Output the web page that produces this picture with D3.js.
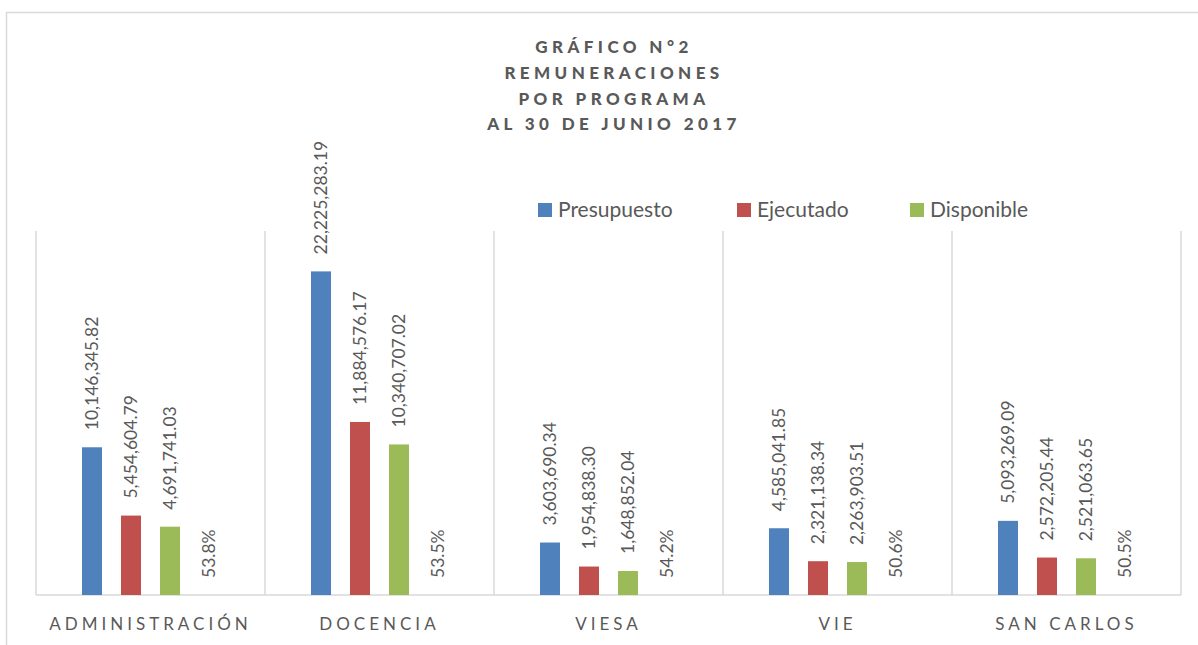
<!DOCTYPE html>
<html>
<head>
<meta charset="utf-8">
<script src="https://cdn.jsdelivr.net/npm/d3@7"></script>
<style>
  body { margin: 0; background: #fff; }
  text { font-family: Lato, "Open Sans", sans-serif; fill: #595959; }
</style>
</head>
<body>
<svg width="1198" height="645"></svg>
<script>
var categorias = ["ADMINISTRACIÓN", "DOCENCIA", "VIESA", "VIE", "SAN CARLOS"];
var presupuesto = [10146345.82, 22225283.19, 3603690.34, 4585041.85, 5093269.09];
var ejecutado = [5454604.79, 11884576.17, 1954838.30, 2321138.34, 2572205.44];
var disponible = [4691741.03, 10340707.02, 1648852.04, 2263903.51, 2521063.65];
var porcentaje = [0.538, 0.535, 0.542, 0.506, 0.505];
var series = ["Presupuesto", "Ejecutado", "Disponible", "Porcentaje"];
var titulo = ["GRÁFICO N°2", "REMUNERACIONES", "POR PROGRAMA", "AL 30 DE JUNIO 2017"];

var colores = { Presupuesto: "#4F81BD", Ejecutado: "#C0504D", Disponible: "#9BBB59", Porcentaje: "none" };

var data = categorias.map(function(c, i) {
  return { cat: c, Presupuesto: presupuesto[i], Ejecutado: ejecutado[i], Disponible: disponible[i], Porcentaje: porcentaje[i] };
});

var svg = d3.select("svg"),
    margin = { top: 231, right: 17, bottom: 50, left: 36 },
    width = +svg.attr("width") - margin.left - margin.right,
    height = +svg.attr("height") - margin.top - margin.bottom;

// outer chart border
svg.append("rect")
    .attr("x", 6.5).attr("y", 12.5)
    .attr("width", 1200).attr("height", 700)
    .attr("fill", "none")
    .attr("stroke", "#D9D9D9")
    .attr("stroke-width", 1.5);

var g = svg.append("g").attr("transform", "translate(" + margin.left + "," + margin.top + ")");

var x0 = d3.scaleBand().domain(categorias).range([0, width]).padding(0);
var x1 = d3.scaleBand().domain(series).range([0, x0.bandwidth()])
    .paddingInner(19 / 39).paddingOuter(1.18);
var y = d3.scaleLinear().domain([0, 25000000]).range([height, 0]);

// vertical gridlines at category boundaries
var bordes = categorias.map(function(c) { return x0(c); }).concat([width]);
g.append("g").selectAll("line")
  .data(bordes)
  .enter().append("line")
    .attr("x1", function(d) { return d; })
    .attr("x2", function(d) { return d; })
    .attr("y1", 0).attr("y2", height)
    .attr("stroke", "#D9D9D9")
    .attr("stroke-width", 1.5);

g.append("line")
    .attr("x1", 0).attr("x2", width)
    .attr("y1", height).attr("y2", height)
    .attr("stroke", "#D9D9D9")
    .attr("stroke-width", 1.5);

var grupos = g.append("g").selectAll("g")
  .data(data)
  .enter().append("g")
    .attr("transform", function(d) { return "translate(" + x0(d.cat) + ",0)"; });

var celdas = grupos.selectAll("g")
  .data(function(d) { return series.map(function(s) { return { key: s, value: d[s] }; }); })
  .enter().append("g");

celdas.append("rect")
    .attr("x", function(d) { return x1(d.key); })
    .attr("y", function(d) { return y(d.value); })
    .attr("width", x1.bandwidth())
    .attr("height", function(d) { return height - y(d.value); })
    .attr("fill", function(d) { return colores[d.key]; });

var fmtNum = d3.format(",.2f"), fmtPct = d3.format(".1%");

celdas.append("text")
    .attr("transform", function(d) {
      return "translate(" + (x1(d.key) + x1.bandwidth() / 2) + "," + (y(d.value) - 17) + ") rotate(-90)";
    })
    .attr("dy", "0.35em")
    .attr("text-anchor", "start")
    .attr("font-size", 17.5)
    .text(function(d) { return d.key === "Porcentaje" ? fmtPct(d.value) : fmtNum(d.value); });

// category axis labels
g.append("g").selectAll("text")
  .data(categorias)
  .enter().append("text")
    .attr("x", function(d) { return x0(d) + x0.bandwidth() / 2; })
    .attr("y", height + 35)
    .attr("text-anchor", "middle")
    .attr("font-size", 17)
    .attr("letter-spacing", 4)
    .text(function(d) { return d; });

// title
svg.append("g").selectAll("text")
  .data(titulo)
  .enter().append("text")
    .attr("x", 614)
    .attr("y", function(d, i) { return 53 + i * 25.8; })
    .attr("text-anchor", "middle")
    .attr("font-size", 17)
    .attr("font-weight", 900)
    .attr("letter-spacing", 4.4)
    .text(function(d) { return d; });

// legend
var legendX = [538, 737, 910];
var legend = svg.append("g").selectAll("g")
  .data(series.slice(0, 3))
  .enter().append("g")
    .attr("transform", function(d, i) { return "translate(" + legendX[i] + ",203)"; });

legend.append("rect")
    .attr("width", 14).attr("height", 14)
    .attr("fill", function(d) { return colores[d]; });

legend.append("text")
    .attr("x", 20)
    .attr("y", 7)
    .attr("dy", "0.35em")
    .attr("font-size", 21)
    .text(function(d) { return d; });
</script>
</body>
</html>
